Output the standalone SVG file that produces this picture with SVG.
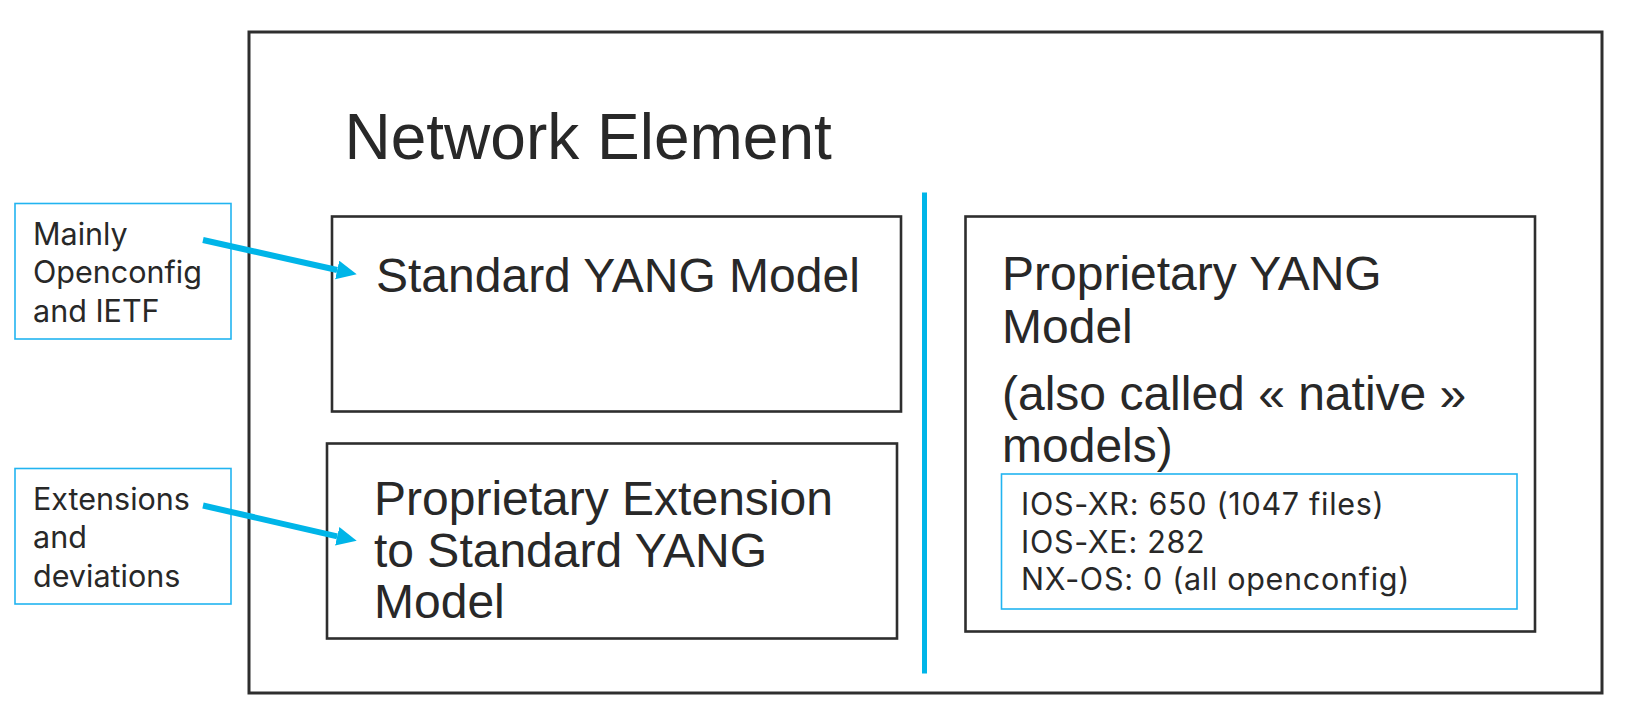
<svg xmlns="http://www.w3.org/2000/svg" width="1644" height="728" viewBox="0 0 1644 728">
<style>
.box{fill:none;stroke:#2e2e2e;stroke-width:2.6}
.outer{fill:none;stroke:#2e2e2e;stroke-width:3}
.note{fill:#fff;stroke:#22b4f0;stroke-width:1.6}
.big{font-family:"Liberation Sans",Arial,sans-serif;fill:#282828}
.small{font-family:Inter,"Noto Sans",sans-serif;font-size:30.5px;fill:#282828}
.conn{stroke:#00b5e8;stroke-width:6;fill:none}
</style>
<defs>
<marker id="ah" markerUnits="userSpaceOnUse" markerWidth="22" markerHeight="20" refX="0" refY="9.5" orient="auto">
<path d="M0,0 L20,9.5 L0,19 Z" fill="#00b5e8"/>
</marker>
</defs>
<rect width="1644" height="728" fill="#fff"/>
<g id="network-element">
<rect class="outer" x="249" y="32" width="1353" height="661"/>
<text class="big" x="344.5" y="159" font-size="64">Network Element</text>
</g>
<g id="standard-model">
<rect class="box" x="332" y="216.5" width="569" height="195"/>
<text class="big" x="376" y="291.5" font-size="48">Standard YANG Model</text>
</g>
<g id="extension-model">
<rect class="box" x="327" y="443.5" width="570" height="195"/>
<text class="big" font-size="48"><tspan x="374" y="515">Proprietary Extension</tspan><tspan x="374" y="566.7">to Standard YANG</tspan><tspan x="374" y="618.3">Model</tspan></text>
</g>
<g id="proprietary-model">
<rect class="box" x="965.5" y="216.5" width="569.5" height="415"/>
<text class="big" font-size="48"><tspan x="1002" y="290">Proprietary YANG</tspan><tspan x="1002" y="343">Model</tspan><tspan x="1002" y="410">(also called « native »</tspan><tspan x="1002" y="461.5">models)</tspan></text>
</g>
<g id="counts">
<rect class="note" x="1001.5" y="474" width="515.5" height="135"/>
<text class="small" font-size="31.5" letter-spacing="0.7"><tspan x="1021" y="515">IOS-XR: 650 (1047 files)</tspan><tspan x="1021" y="552.7">IOS-XE: 282</tspan><tspan x="1021" y="590">NX-OS: 0 (all openconfig)</tspan></text>
</g>
<g id="note-standard">
<rect class="note" x="15" y="203.5" width="216" height="135.5"/>
<text class="small"><tspan x="33" y="245">Mainly</tspan><tspan x="33" y="283.3">Openconfig</tspan><tspan x="33" y="321.7">and IETF</tspan></text>
</g>
<g id="note-extension">
<rect class="note" x="15" y="468.5" width="216" height="135.5"/>
<text class="small"><tspan x="33" y="510">Extensions</tspan><tspan x="33" y="548.3">and</tspan><tspan x="33" y="586.7">deviations</tspan></text>
</g>
<g id="connectors">
<line x1="924.5" y1="192.5" x2="924.5" y2="673.5" stroke="#00b5e8" stroke-width="5"/>
<line class="conn" x1="203" y1="240" x2="337.2" y2="270" marker-end="url(#ah)"/>
<line class="conn" x1="203" y1="505.5" x2="337.2" y2="536.3" marker-end="url(#ah)"/>
</g>
</svg>
